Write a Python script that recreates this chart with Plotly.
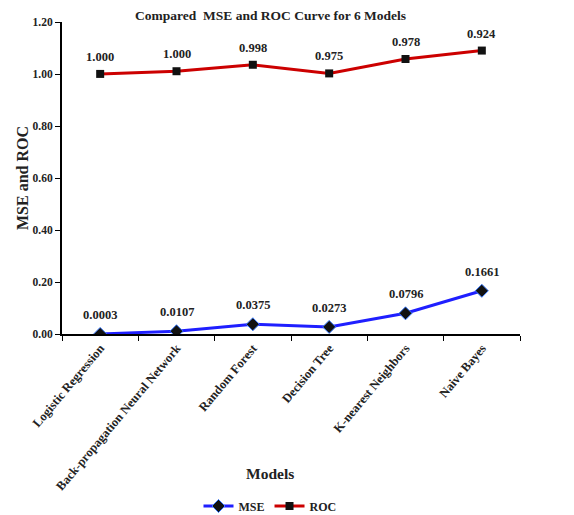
import plotly.graph_objects as go

models = ["Logistic Regression", "Back-propagation Neural Network", "Random Forest",
          "Decision Tree", "K-nearest Neighbors", "Naive Bayes"]
mse = [0.0003, 0.0107, 0.0375, 0.0273, 0.0796, 0.1661]
roc = [1.000, 1.000, 0.998, 0.975, 0.978, 0.924]
mse_labels = ["0.0003", "0.0107", "0.0375", "0.0273", "0.0796", "0.1661"]
roc_labels = ["1.000", "1.000", "0.998", "0.975", "0.978", "0.924"]

FONT = "Liberation Serif"
OFF = 8  # page body margin offset
W, H = 574, 515
L, R, T, B = 62 - OFF, W - (520 - OFF), 22 - OFF, H - (334 - OFF)
cx = (270 - OFF - L) / (W - L - R)

def cy(py):
    return 1 - (py - OFF) / H

def py_paper(py):
    return (H - B - (py - OFF)) / (H - T - B)

fig = go.Figure()
fig.add_trace(go.Scatter(
    x=models, y=mse, name="MSE", mode="lines+markers", stackgroup="s", fill="none",
    line=dict(color="#1f1fff", width=3),
    marker=dict(symbol="diamond", size=10, color="#111111", line=dict(color="#3a7bff", width=1)),
))
fig.add_trace(go.Scatter(
    x=models, y=roc, name="ROC", mode="lines+markers", stackgroup="s", fill="none",
    line=dict(color="#cc0000", width=3),
    marker=dict(symbol="square", size=8, color="#111111"),
))

stacked = [m + r for m, r in zip(mse, roc)]
for xi, yi, t in zip(models, mse, mse_labels):
    fig.add_annotation(x=xi, y=yi, text=t, showarrow=False, yshift=19, yanchor="middle",
                       font=dict(family=FONT, size=12.5, color="#222", weight="bold"))
for xi, yi, t in zip(models, stacked, roc_labels):
    fig.add_annotation(x=xi, y=yi, text=t, showarrow=False, yshift=17, yanchor="middle",
                       font=dict(family=FONT, size=12.5, color="#222", weight="bold"))

fig.add_annotation(xref="paper", yref="paper", x=cx, y=py_paper(15), yanchor="middle",
                   text="Compared  MSE and ROC Curve for 6 Models", showarrow=False,
                   font=dict(family=FONT, size=13.5, color="#222", weight="bold"))
fig.add_annotation(xref="paper", yref="paper", x=cx, y=py_paper(473), yanchor="middle",
                   text="Models", showarrow=False,
                   font=dict(family=FONT, size=15.5, color="#222", weight="bold"))

fig.update_layout(
    width=W, height=H, margin=dict(l=L, r=R, t=T, b=B, autoexpand=False),
    paper_bgcolor="white", plot_bgcolor="white",
    showlegend=True,
    legend=dict(orientation="h", x=cx, xanchor="center", yref="container", y=cy(506),
                yanchor="middle", font=dict(family=FONT, size=12, color="#222", weight="bold"),
                itemwidth=30, tracegroupgap=0),
    xaxis=dict(showline=True, linecolor="black", linewidth=2, ticks="outside", tickson="boundaries",
               ticklen=5, tickcolor="black", tickangle=-50, automargin=False,
               tickfont=dict(family=FONT, size=12.5, color="#222", weight="bold"),
               showgrid=False, range=[-0.5, 5.5]),
    yaxis=dict(range=[0, 1.2], dtick=0.2, tickformat=".2f", showline=True, linecolor="black",
               linewidth=2, ticks="outside", ticklen=5, tickcolor="black", showgrid=False,
               zeroline=False, automargin=False,
               tickfont=dict(family=FONT, size=11.5, color="#222", weight="bold"),
               title=dict(text="MSE and ROC", standoff=0,
                          font=dict(family=FONT, size=16, color="#222", weight="bold"))),
)
fig.write_html("out.html")
